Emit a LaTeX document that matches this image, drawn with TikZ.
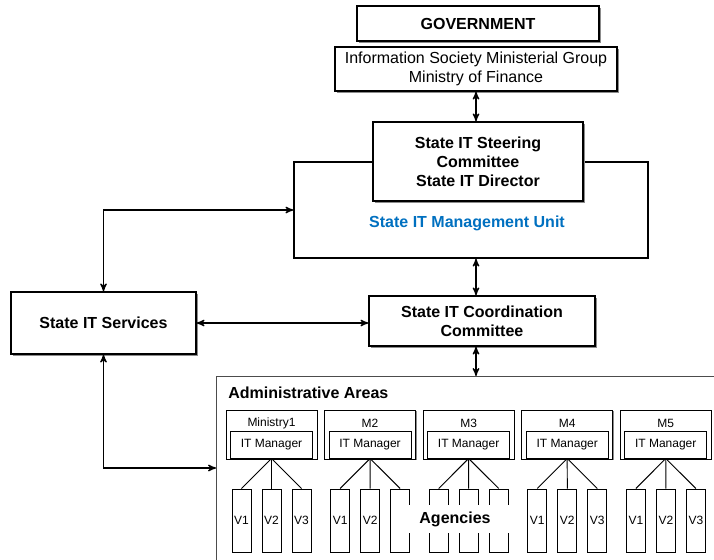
\documentclass[tikz,border=0pt]{standalone}
\usepackage{fontspec}
\setmainfont{Liberation Sans}
\usetikzlibrary{arrows,shadows}
\definecolor{unitblue}{RGB}{0,112,192}

\begin{document}
\begin{tikzpicture}[x=0.625pt,y=-0.625pt]
 \tikzstyle{arrow} = [<->,thick,>=stealth'];
 \tikzstyle{box} = [draw=black,thick,fill=white,inner sep=0pt,align=center,font=\fontsize{10}{12}\selectfont\bfseries,drop shadow={shadow xshift=1pt,shadow yshift=-1pt,fill=black!45,opacity=1}];
 \tikzstyle{mbox} = [draw=black,semithick,fill=white,inner sep=0pt,node distance=61.6pt,minimum width=56.9pt,minimum height=30.6pt,drop shadow={shadow xshift=0.7pt,shadow yshift=-0.7pt,fill=black!45,opacity=1}];
 \tikzstyle{itbox} = [draw=black,semithick,fill=white,inner sep=0pt,minimum width=51.25pt,minimum height=16.9pt,font=\fontsize{7.5}{9}\selectfont];
 \tikzstyle{vbox} = [draw=black,semithick,inner sep=0pt,minimum width=11.9pt,minimum height=39.4pt,font=\fontsize{7.5}{9}\selectfont];
 \tikzstyle{small} = [inner sep=0pt,font=\fontsize{7.5}{9}\selectfont];
 \tikzstyle{heading} = [inner sep=0pt,font=\fontsize{10}{12}\selectfont\bfseries];

 \useasboundingbox (0,0) rectangle (714,560);
 \clip (0,0) rectangle (714,560);

 % top of the hierarchy
 \node[box,name=gov,minimum width=151.25pt,minimum height=21.9pt] at (478,23.5) {GOVERNMENT};
 \node[box,name=info,font=\fontsize{10}{12}\selectfont,minimum width=176.25pt,minimum height=27.5pt] at (476,69) {Information Society Ministerial Group\\Ministry of Finance};
 \node[draw=black,thick,name=unit,minimum width=221.25pt,minimum height=60pt] at (471,210) {};
 \node[heading,text=unitblue,name=unitlabel] at (467,223) {State IT Management Unit};
 \node[box,name=steer,minimum width=131.25pt,minimum height=49.4pt] at (478,161.5) {State IT Steering\\Committee\\State IT Director};
 \node[box,name=coord,minimum width=141.25pt,minimum height=31.25pt] at (482,321) {State IT Coordination\\Committee};
 \node[box,name=services,minimum width=115.6pt,minimum height=38.75pt] at (103.5,323) {State IT Services};

 % administrative areas
 \node[draw=black!70,thick,name=area,anchor=north west,minimum width=400pt,minimum height=160pt] at (216,376) {};
 \node[heading,name=arealabel,anchor=west] at (228,393) {Administrative Areas};

 \node[mbox,name=m1] at (271.5,434.5) {};
 \node[mbox,name=m2,right of=m1] {};
 \node[mbox,name=m3,right of=m2] {};
 \node[mbox,name=m4,right of=m3] {};
 \node[mbox,name=m5,right of=m4] {};
 \node[small,name=m1t,yshift=-8.75pt] at (m1.north) {Ministry1};
 \node[small,name=m2t,yshift=-8.75pt] at (m2.north) {M2};
 \node[small,name=m3t,yshift=-8.75pt] at (m3.north) {M3};
 \node[small,name=m4t,yshift=-8.75pt] at (m4.north) {M4};
 \node[small,name=m5t,yshift=-8.75pt] at (m5.north) {M5};
 \node[itbox,name=it1,anchor=south,yshift=0.6pt] at (m1.south) {IT Manager};
 \node[itbox,name=it2,anchor=south,yshift=0.6pt] at (m2.south) {IT Manager};
 \node[itbox,name=it3,anchor=south,yshift=0.6pt] at (m3.south) {IT Manager};
 \node[itbox,name=it4,anchor=south,yshift=0.6pt] at (m4.south) {IT Manager};
 \node[itbox,name=it5,anchor=south,yshift=0.6pt] at (m5.south) {IT Manager};

 \foreach \i/\x/\a/\b/\c in {1/271.5/V1/V2/V3, 2/370.1/V1/V2/{}, 3/468.7/{}/{}/{}, 4/567.3/V1/V2/V3, 5/665.9/V1/V2/V3}
 {
  \node[vbox,name=v\i-1] at (\x-30,520.5) {\a};
  \node[vbox,name=v\i-2] at (\x,520.5) {\b};
  \node[vbox,name=v\i-3] at (\x+30,520.5) {\c};
  \draw[semithick] (it\i.south) -- (v\i-1.north);
  \draw[semithick] (it\i.south) -- (v\i-2.north);
  \draw[semithick] (it\i.south) -- (v\i-3.north);
 }
 \node[heading,fill=white,name=agencies,minimum width=78pt,minimum height=17.5pt] at (455,519) {Agencies};

 % connections
 \coordinate (adm) at (216,468);
 \draw[arrow] (info.south) -- (info.south |- steer.north);
 \draw[arrow] (unit.south -| info.south) -- (info.south |- coord.north);
 \draw[arrow] (coord.south -| info.south) -- (info.south |- area.north);
 \draw[arrow] (services.east) -- (services.east -| coord.west);
 \draw[arrow] (services.north) |- (unit.west);
 \draw[arrow] (services.south) |- (adm);
\end{tikzpicture}
\end{document}
